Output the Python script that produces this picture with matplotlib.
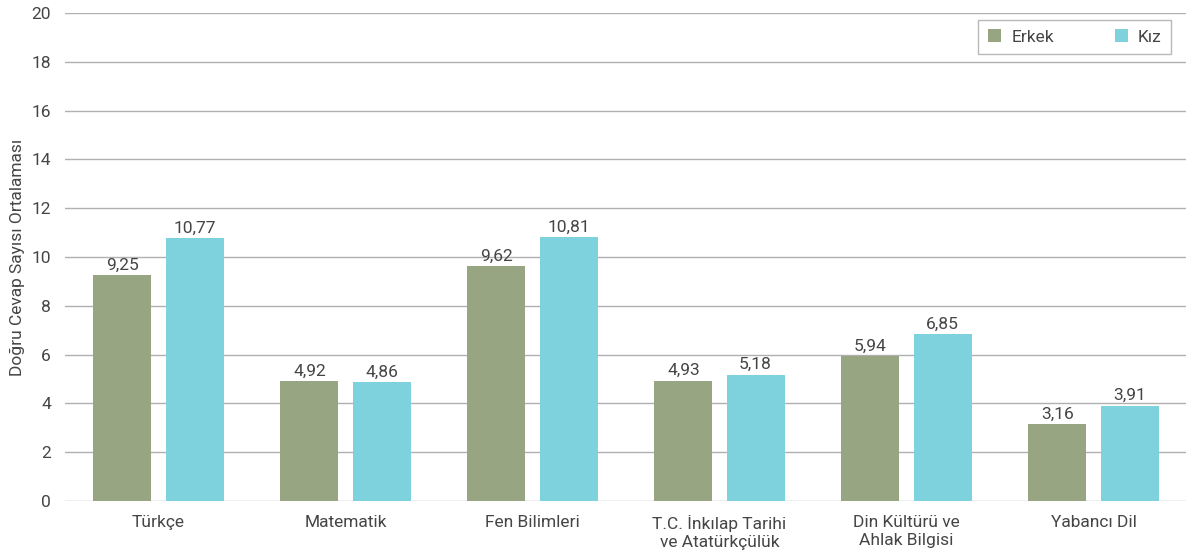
import numpy as np
import matplotlib.pyplot as plt

plt.rcParams['font.family'] = ['Roboto', 'DejaVu Sans']

categories = ['Türkçe', 'Matematik', 'Fen Bilimleri',
              'T.C. İnkılap Tarihi\nve Atatürkçülük', 'Din Kültürü ve\nAhlak Bilgisi', 'Yabancı Dil']
erkek = [9.25, 4.92, 9.62, 4.93, 5.94, 3.16]
kiz = [10.77, 4.86, 10.81, 5.18, 6.85, 3.91]

c_erkek = '#98A583'
c_kiz = '#7ED2DD'
txt = '#454545'

fig = plt.figure(figsize=(11.86, 5.51), dpi=100)
ax = fig.add_axes([65/1186, 50/551, 1122/1186, 488/551])

x = np.arange(len(categories))
w = 0.31
off = 0.193
b1 = ax.bar(x - off, erkek, w, color=c_erkek, label='Erkek', zorder=3)
b2 = ax.bar(x + off, kiz, w, color=c_kiz, label='Kız', zorder=3)

for bars, vals in ((b1, erkek), (b2, kiz)):
    for b, v in zip(bars, vals):
        ax.text(b.get_x() + b.get_width()/2, v + 0.1, f'{v:.2f}'.replace('.', ','),
                ha='center', va='bottom', fontsize=12.5, color=txt)

ax.set_xlim(-0.5, len(categories) - 0.5)
ax.set_ylim(0, 20)
ax.set_yticks(np.arange(0, 21, 2))
ax.yaxis.grid(True, color='#b0b0b0', linewidth=1, zorder=0)
ax.set_axisbelow(True)
for s in ax.spines.values():
    s.set_visible(False)
ax.tick_params(axis='both', length=0, labelsize=12.5, colors=txt)
ax.tick_params(axis='y', pad=10)
ax.tick_params(axis='x', pad=10)
ax.set_xticks(x)
ax.set_xticklabels(categories, linespacing=1.25)
ax.set_ylabel('Doğru Cevap Sayısı Ortalaması', fontsize=12.5, color=txt, labelpad=5)

leg = ax.legend(loc='upper right', bbox_to_anchor=(0.986, 0.986), borderaxespad=0,
                ncol=2, prop={'size': 12.5},
                frameon=True, fancybox=False, handlelength=0.75, handleheight=0.75,
                columnspacing=3.5, borderpad=0.55, handletextpad=0.6)
leg.get_frame().set_edgecolor('#a6a6a6')
leg.get_frame().set_linewidth(1)
for t in leg.get_texts():
    t.set_color(txt)

fig.savefig('out.png', dpi=100)
